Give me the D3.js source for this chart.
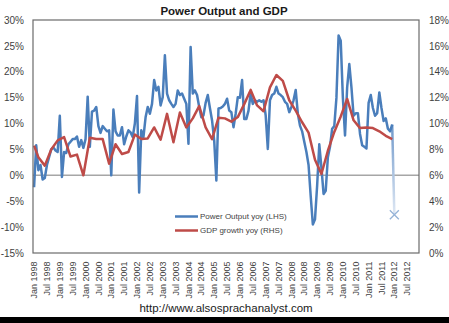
<!DOCTYPE html>
<html>
<head>
<meta charset="utf-8">
<script src="https://cdn.jsdelivr.net/npm/d3@7"></script>
<style>
  body { margin: 0; background: #fff; }
  svg { display: block; font-family: "Liberation Sans", Arial, sans-serif; }
</style>
</head>
<body>
<div id="chart"></div>
<script>
// Power output yoy (%), monthly from Jan 1998; last value is Jan 2012
const powerValues = [
  -2.3, 5.8, 1.0, 2.0, -0.8, -0.5, 2.0, 3.5, 5.0, 5.4, 4.8, 4.5,
  11.5, -0.3, 4.5, 4.3, 6.0, 6.5, 7.0, 7.0, 7.5, 5.5, 6.8, 5.3,
  7.0, 15.2, 5.5, 12.3, 12.5, 13.2, 9.5, 8.2, 9.5, 9.0, 8.5, 8.7,
  0.0, 12.7, 8.5, 7.7, 7.7, 9.3, 6.0, 7.5, 8.7, 8.3, 7.4, 10.0,
  15.3, -3.3, 8.7, 7.4, 11.2, 13.2, 11.9, 13.8, 18.4, 16.4, 17.1, 13.5,
  15.1, 23.2, 15.8, 14.5, 13.8, 13.2, 13.8, 16.4, 15.5, 15.8, 14.8, 13.8,
  6.1, 24.8, 15.8, 16.4, 15.5, 13.2, 11.2, 11.6, 14.0, 15.5, 13.0, 10.6,
  6.7, -1.0, 12.9, 13.0, 13.3, 13.8, 14.8, 12.5, 12.2, 9.3, 11.9, 15.1,
  15.0, 18.4, 10.9, 10.9, 12.5, 15.8, 13.8, 14.5, 14.2, 14.5, 14.2, 14.5,
  11.6, 5.1, 14.5, 15.5, 15.8, 17.1, 15.8, 15.5, 15.1, 14.2, 13.8, 12.2,
  13.2, 14.5, 16.5, 11.9, 9.6, 8.5, 6.5, 4.5, 2.0, -4.0, -9.5, -8.5,
  -2.0, 6.0, 1.5, -3.6, -3.0, 3.5, 5.5, 9.0, 9.5, 15.0, 27.0, 26.0,
  15.0, 7.7, 17.0, 21.5, 17.0, 11.5, 12.0, 12.0, 8.0, 5.8, 5.5, 5.2,
  14.0, 15.5, 13.0, 11.5, 12.0, 16.0, 13.0, 10.5, 11.0, 9.0, 8.5, 9.8,
  -7.6
];

// GDP growth yoy (%), right axis
const gdpDates = [
  "Jan 1998", "Mar 1998", "Jun 1998", "Sep 1998", "Dec 1998",
  "Mar 1999", "Jun 1999", "Sep 1999", "Dec 1999",
  "Mar 2000", "Jun 2000", "Sep 2000", "Dec 2000",
  "Mar 2001", "Jun 2001", "Sep 2001", "Dec 2001",
  "Mar 2002", "Jun 2002", "Sep 2002", "Dec 2002",
  "Mar 2003", "Jun 2003", "Sep 2003", "Dec 2003",
  "Mar 2004", "Jun 2004", "Sep 2004", "Dec 2004",
  "Mar 2005", "Jun 2005", "Sep 2005", "Dec 2005",
  "Mar 2006", "Jun 2006", "Sep 2006", "Dec 2006",
  "Mar 2007", "Jun 2007", "Sep 2007", "Dec 2007",
  "Mar 2008", "Jun 2008", "Sep 2008", "Dec 2008",
  "Mar 2009", "Jun 2009", "Sep 2009", "Dec 2009",
  "Mar 2010", "Jun 2010", "Sep 2010", "Dec 2010",
  "Mar 2011", "Jun 2011", "Sep 2011", "Dec 2011"
];
const gdpValues = [
  8.3, 7.4, 6.75, 8.0, 8.7,
  8.95, 7.45, 7.6, 6.0,
  8.9, 8.8, 8.8, 6.9,
  8.4, 7.65, 7.8, 9.15,
  8.8, 8.85, 9.7, 8.75,
  10.75, 8.55, 10.85, 9.7,
  10.4, 11.35, 9.7, 8.8,
  10.45, 10.4, 10.15, 10.5,
  11.5, 12.6, 11.4, 10.95,
  12.8, 13.75, 13.3, 11.8,
  11.0, 10.1, 9.3, 7.2,
  6.1, 7.9, 9.35, 10.55,
  11.9, 10.25, 9.65, 9.7,
  9.65, 9.4, 9.05, 8.8
];

const leftTicks = [-15, -10, -5, 0, 5, 10, 15, 20, 25, 30];
const rightTicks = [0, 2, 4, 6, 8, 10, 12, 14, 16, 18];
const xTickLabels = [
  "Jan 1998", "Jul 1998", "Jan 1999", "Jul 1999", "Jan 2000", "Jul 2000",
  "Jan 2001", "Jul 2001", "Jan 2002", "Jul 2002", "Jan 2003", "Jul 2003",
  "Jan 2004", "Jul 2004", "Jan 2005", "Jul 2005", "Jan 2006", "Jul 2006",
  "Jan 2007", "Jul 2007", "Jan 2008", "Jul 2008", "Jan 2009", "Jul 2009",
  "Jan 2010", "Jul 2010", "Jan 2011", "Jul 2011", "Jan 2012", "Jul 2012"
];

const W = 449, H = 323;
const plot = { left: 33, right: 419, top: 20, bottom: 253 };
const blue = "#4a7ebb", red = "#be4b48", textCol = "#3f3f3f";

const fmt = d3.timeFormat("%b %Y");
const months = d3.timeMonth.range(new Date(1998, 0, 1), new Date(2013, 0, 1)).map(fmt);

const x = d3.scaleBand().domain(months).range([plot.left, plot.right]);
const cx = m => x(m) + x.bandwidth() / 2;
const yL = d3.scaleLinear().domain([-15, 30]).range([plot.bottom, plot.top]);
const yR = d3.scaleLinear().domain([0, 18]).range([plot.bottom, plot.top]);

const svg = d3.select("#chart").append("svg").attr("width", W).attr("height", H);

svg.append("rect").attr("width", W).attr("height", H).attr("fill", "#fff");

// title
svg.append("text")
  .attr("x", 224).attr("y", 14.5)
  .attr("text-anchor", "middle")
  .attr("font-size", 11.5).attr("font-weight", "bold")
  .attr("fill", "#1a1a1a")
  .text("Power Output and GDP");

// zero line
svg.append("line")
  .attr("x1", plot.left).attr("x2", plot.right)
  .attr("y1", yL(0)).attr("y2", yL(0))
  .attr("stroke", "#a6a6a6").attr("stroke-width", 1.5);

// axes
const yAxisL = d3.axisLeft(yL).tickValues(leftTicks).tickSize(0).tickPadding(9)
  .tickFormat(d => d + "%");
const yAxisR = d3.axisRight(yR).tickValues(rightTicks).tickSize(0).tickPadding(10)
  .tickFormat(d => d + "%");

const gL = svg.append("g").attr("transform", `translate(${plot.left},0)`).call(yAxisL);
const gR = svg.append("g").attr("transform", `translate(${plot.right},0)`).call(yAxisR);
[gL, gR].forEach(g => {
  g.select(".domain").remove();
  g.selectAll("text").attr("font-size", 10).attr("fill", textCol)
    .attr("font-family", "Liberation Sans, Arial, sans-serif");
});

const xAxis = d3.axisBottom(x).tickValues(xTickLabels).tickSize(0);
const gX = svg.append("g").attr("transform", `translate(0,${plot.bottom})`).call(xAxis);
gX.select(".domain").remove();
gX.selectAll("text")
  .attr("font-size", 9).attr("fill", textCol)
  .attr("font-family", "Liberation Sans, Arial, sans-serif")
  .attr("text-anchor", "end")
  .attr("transform", "translate(0,8.5) rotate(-90)")
  .attr("x", 0).attr("y", 0).attr("dy", "0.35em");

// power output line
const powerPts = powerValues.map((v, i) => ({ m: months[i], v }));
const solidPts = powerPts.slice(0, -1);
const lastPts = powerPts.slice(-2);

const lineL = d3.line().x(d => cx(d.m)).y(d => yL(d.v));

const defs = svg.append("defs");
const grad = defs.append("linearGradient")
  .attr("id", "fade").attr("gradientUnits", "userSpaceOnUse")
  .attr("x1", 0).attr("x2", 0)
  .attr("y1", yL(lastPts[0].v)).attr("y2", yL(lastPts[1].v));
grad.append("stop").attr("offset", "0%").attr("stop-color", "#6f98ca");
grad.append("stop").attr("offset", "100%").attr("stop-color", "#dfe8f4");

svg.append("path")
  .datum(lastPts)
  .attr("fill", "none")
  .attr("stroke", "url(#fade)")
  .attr("stroke-width", 2.5)
  .attr("d", lineL);

svg.append("path")
  .datum(solidPts)
  .attr("fill", "none")
  .attr("stroke", blue)
  .attr("stroke-width", 2.5)
  .attr("stroke-linejoin", "round")
  .attr("d", lineL);

// marker on the last reading
const lp = lastPts[1];
const mx = cx(lp.m), my = yL(lp.v), s = 4.5;
svg.append("path")
  .attr("d", `M${mx - s},${my - s}L${mx + s},${my + s}M${mx - s},${my + s}L${mx + s},${my - s}`)
  .attr("stroke", "#95b3d7").attr("stroke-width", 1.3).attr("fill", "none");

// GDP line
const parse = d3.timeParse("%b %Y");
const gdpPts = gdpDates.map((d, i) => ({ m: fmt(parse(d)), v: gdpValues[i] }));
svg.append("path")
  .datum(gdpPts)
  .attr("fill", "none")
  .attr("stroke", red)
  .attr("stroke-width", 2.5)
  .attr("stroke-linejoin", "round")
  .attr("d", d3.line().x(d => cx(d.m)).y(d => yR(d.v)));

// plot frame
svg.append("rect")
  .attr("x", plot.left).attr("y", plot.top)
  .attr("width", plot.right - plot.left).attr("height", plot.bottom - plot.top)
  .attr("fill", "none").attr("stroke", "#6b6b6b").attr("stroke-width", 1.2);

// legend
const legend = svg.append("g").attr("transform", "translate(175,216.5)");
const legendItems = [
  { name: "Power Output yoy (LHS)", color: blue },
  { name: "GDP growth yoy (RHS)", color: red }
];
const li = legend.selectAll("g").data(legendItems).enter().append("g")
  .attr("transform", (d, i) => `translate(0,${i * 14})`);
li.append("line").attr("x1", 0).attr("x2", 23)
  .attr("stroke", d => d.color).attr("stroke-width", 2.5);
li.append("text").attr("x", 25).attr("dy", "0.35em")
  .attr("font-size", 8).attr("fill", textCol)
  .text(d => d.name);

// source
svg.append("text")
  .attr("x", 226).attr("y", 311.5)
  .attr("text-anchor", "middle")
  .attr("font-size", 11.5).attr("fill", "#1a1a1a")
  .text("http://www.alsosprachanalyst.com");

svg.append("rect").attr("x", 0).attr("y", 317).attr("width", W).attr("height", H - 317)
  .attr("fill", "#000");
</script>
</body>
</html>
